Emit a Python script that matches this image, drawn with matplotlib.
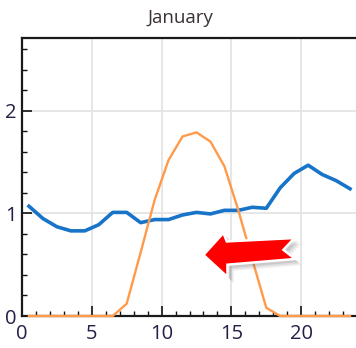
import matplotlib
matplotlib.use("Agg")
import matplotlib.pyplot as plt
from matplotlib.patches import Polygon
from matplotlib.ticker import MultipleLocator
import numpy as np

# ---- data ----
hours = [h + 0.5 for h in range(24)]
consumption = [1.07, 0.95, 0.87, 0.83, 0.83, 0.89, 1.01, 1.01, 0.91, 0.94, 0.94, 0.985,
               1.01, 0.995, 1.03, 1.03, 1.06, 1.05, 1.25, 1.39, 1.47, 1.38, 1.32, 1.24]
solar = [0, 0, 0, 0, 0, 0, 0, 0.12, 0.62, 1.13, 1.52, 1.75,
         1.79, 1.70, 1.46, 1.03, 0.55, 0.08, 0, 0, 0, 0, 0, 0]
title = "January"
xticks = [0, 5, 10, 15, 20]
yticks = [0, 1, 2]

W, H = 356, 348
fig = plt.figure(figsize=(W / 100, H / 100), dpi=100)
ax = fig.add_axes([22 / W, 32 / H, 335 / W, 278 / H])

ax.plot(hours, consumption, color="#1874c8", lw=2.6, solid_joinstyle="round",
        zorder=3, clip_on=False)
ax.plot(hours, solar, color="#ff9a4a", lw=1.7, zorder=3, clip_on=False)

ax.set_xlim(0, 24)
ax.set_ylim(0, 2.71)
ax.set_xticks(xticks)
ax.set_yticks(yticks)
ax.xaxis.set_minor_locator(MultipleLocator(1))
ax.yaxis.set_minor_locator(MultipleLocator(0.2))
ax.grid(True, which="major", color="#e2e2e2", lw=1.2, zorder=0)
ax.set_axisbelow(True)

lab_color = "#231f48"
ax.tick_params(which="major", direction="in", length=7, width=1.2, color="#111111",
               labelsize=14.5, labelcolor=lab_color, top=False, right=False)
ax.tick_params(which="minor", direction="in", length=3.5, width=1.0, color="#111111",
               top=False, right=False)
ax.tick_params(axis="x", which="major", pad=6)
ax.tick_params(axis="y", which="major", pad=4)
for lab in ax.get_xticklabels() + ax.get_yticklabels():
    lab.set_fontfamily("Open Sans")

for s in ["left", "bottom", "top"]:
    ax.spines[s].set_linewidth(1.6)
    ax.spines[s].set_color("#1a1a1a")
ax.spines["right"].set_visible(False)

fig.text(180 / W, 1 - 18 / H, title, ha="center", va="center", fontsize=13.5,
         color="#3a3232", family="Open Sans")

# ---- red arrow annotation (shape in data coords) ----
arrow = np.array([
    [13.0, 0.595], [14.43, 0.81], [14.67, 0.727], [19.52, 0.76],
    [18.73, 0.645], [19.57, 0.556], [14.72, 0.50], [14.72, 0.38],
])
for dx, dy, a in [(0.45, -0.06, 0.10), (0.35, -0.045, 0.12), (0.25, -0.03, 0.15)]:
    ax.add_patch(Polygon(arrow + [dx, dy], closed=True, facecolor="#606060",
                         edgecolor="none", alpha=a, zorder=4, clip_on=False))
ax.add_patch(Polygon(arrow, closed=True, facecolor="#ff0000", edgecolor="white",
                     lw=1.8, joinstyle="miter", zorder=5, clip_on=False))

fig.savefig("out.png", dpi=100)
